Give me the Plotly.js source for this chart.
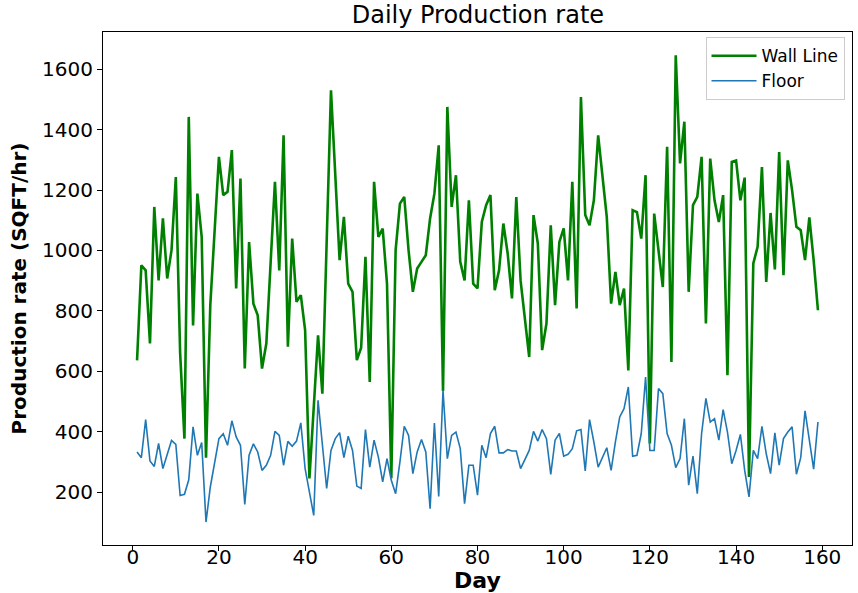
<!DOCTYPE html>
<html>
<head>
<meta charset="utf-8">
<script src="https://cdn.plot.ly/plotly-3.0.1.min.js"></script>
<style>html,body{margin:0;padding:0;background:#fff;}#chart{width:858px;height:593px;}</style>
</head>
<body>
<div id="chart"></div>
<script>
// Day numbers read from the point positions (a few days have no record)
const days = [
1, 2, 3, 4, 5, 6, 7, 8, 9, 10, 11, 12, 13, 14, 15, 16, 17, 18,
20, 21, 22, 23, 24, 25, 26, 27, 28, 29, 30, 31, 32, 33, 34, 35, 36, 37, 38, 39,
40, 41, 42, 43, 44, 45, 46, 47, 48, 49, 50, 51, 52, 53, 54, 55, 56, 57, 58, 59,
60, 61, 62, 63, 64, 65, 66, 67, 68, 69, 70, 71, 72, 73, 74, 75, 76, 77, 78, 79,
80, 81, 82, 83, 84, 85, 86, 87, 88, 89, 90,
92, 93, 94, 95, 96, 97, 98, 99, 100, 101, 102, 103, 104, 105, 106, 107, 108,
110, 111, 112, 113, 114, 115, 116, 117, 118, 119, 120, 121, 122, 123, 124, 125,
126, 127, 128, 129, 130, 131, 132, 133, 134, 135, 136, 137, 138, 139, 140, 141,
142, 143, 144, 145, 146, 147, 148, 149, 150, 151, 152, 153, 154, 155, 156, 157,
158, 159
];

const wallLine = [
636, 951, 934, 692, 1144, 901, 1106, 907, 1001, 1243,
660, 377, 1442, 752, 1188, 1045, 314, 820, 1310, 1183,
1194, 1332, 874, 1238, 609, 1028, 824, 785, 609, 692,
960, 1227, 934, 1381, 681, 1039, 830, 852, 736, 245,
480, 719, 526, 1050, 1530, 1250, 968, 1111, 890, 863,
637, 678, 979, 565, 1227, 1045, 1072, 890, 246, 1001,
1155, 1177, 1001, 863, 940, 962, 984, 1106, 1188, 1348,
535, 1475, 1144, 1249, 962, 901, 1166, 890, 874, 1094,
1150, 1183, 868, 934, 1089, 990, 841, 1177, 900, 647,
1117, 1023, 670, 758, 1083, 819, 1028, 1073, 901, 1227,
808, 1508, 1117, 1083, 1166, 1381, 1110, 824, 929, 819,
874, 603, 1133, 1127, 1039, 1249, 361, 1122, 1001, 879,
1343, 631, 1646, 1288, 1426, 863, 1150, 1177, 1310, 758,
1304, 1166, 1094, 1183, 587, 1293, 1298, 1166, 1241, 250,
957, 1012, 1276, 896, 1124, 937, 1326, 918, 1298, 1199,
1078, 1067, 968, 1109, 968, 802
];

const floor = [
333, 314, 440, 303, 285, 361, 278, 327, 371, 358,
189, 193, 241, 416, 322, 364, 101, 217, 377, 393,
355, 436, 383, 355, 159, 322, 360, 333, 272, 289,
322, 401, 388, 289, 368, 352, 369, 429, 278, 200,
123, 504, 350, 212, 338, 377, 397, 314, 385, 338,
220, 212, 407, 283, 372, 316, 234, 311, 239, 195,
300, 418, 388, 261, 333, 374, 333, 145, 429, 186,
537, 311, 388, 399, 344, 162, 289, 289, 190, 355,
314, 394, 418, 330, 330, 341, 336, 336, 278, 338,
401, 369, 407, 377, 259, 372, 394, 319, 325, 344,
403, 407, 270, 440, 366, 283, 347, 272, 366, 449,
476, 548, 319, 322, 394, 581, 338, 338, 543, 526,
394, 355, 281, 311, 443, 223, 319, 195, 394, 510,
432, 443, 372, 473, 399, 294, 338, 391, 272, 184,
338, 311, 418, 327, 261, 396, 289, 377, 399, 416,
259, 314, 469, 377, 276, 432
];

const xTicks = [0, 20, 40, 60, 80, 100, 120, 140, 160];
const yTicks = [200, 400, 600, 800, 1000, 1200, 1400, 1600];

const font = "DejaVu Sans, Arial, sans-serif";

const traces = [
  {x: days, y: wallLine, type: 'scatter', mode: 'lines', name: 'Wall Line',
   line: {color: '#008000', width: 2.6}},
  {x: days, y: floor, type: 'scatter', mode: 'lines', name: 'Floor',
   line: {color: '#1f77b4', width: 1.6}}
];

const axisCommon = {
  showgrid: false, zeroline: false, showline: true, mirror: true,
  linecolor: '#000', linewidth: 1, ticks: 'outside', ticklen: 5,
  tickcolor: '#000', tickfont: {family: font, size: 20, color: '#000'}
};

const layout = {
  width: 858, height: 593,
  paper_bgcolor: '#fff', plot_bgcolor: '#fff',
  margin: {l: 103, r: 6, t: 32, b: 48},
  title: {text: 'Daily Production rate', font: {family: font, size: 24, color: '#000'},
          x: 0.557, xanchor: 'center', y: 0.99, yanchor: 'top'},
  xaxis: Object.assign({}, axisCommon, {
    range: [-6.9, 166.9], tickvals: xTicks, ticktext: xTicks.map(String),
    ticklabelstandoff: -11,
    title: {text: '<b>Day</b>', font: {family: font, size: 22, color: '#000'}, standoff: 9}
  }),
  yaxis: Object.assign({}, axisCommon, {
    range: [25, 1723], tickvals: yTicks, ticktext: yTicks.map(String),
    title: {text: '<b>Production rate (SQFT/hr)</b>', font: {family: font, size: 20, color: '#000'}, standoff: 10}
  }),
  showlegend: true,
  legend: {x: 0.99, xanchor: 'right', y: 0.99, yanchor: 'top', itemwidth: 45,
           bgcolor: 'rgba(255,255,255,0.8)', bordercolor: '#cccccc', borderwidth: 1,
           font: {family: font, size: 17, color: '#000'}}
};

Plotly.newPlot('chart', traces, layout, {displayModeBar: false, staticPlot: true});
</script>
</body>
</html>
